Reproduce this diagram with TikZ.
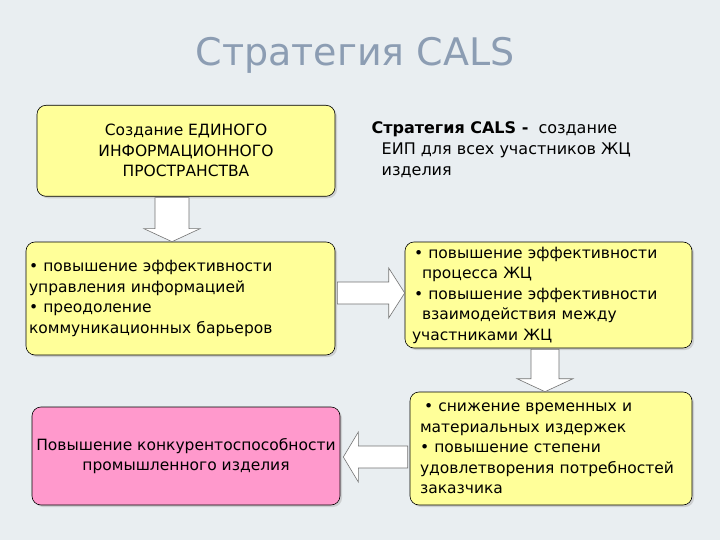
\documentclass[tikz,border=0pt]{standalone}
\usepackage{fontspec}
\setmainfont{DejaVu Sans}
\usetikzlibrary{calc,shadows}
\definecolor{bg}{HTML}{E9EEF1}
\definecolor{yel}{HTML}{FFFF99}
\definecolor{pnk}{HTML}{FF99CC}
\definecolor{ttl}{HTML}{8C9DB3}
\begin{document}
\begin{tikzpicture}[x=1pt,y=-1pt,
  box/.style={draw=black,line width=0.6pt,rounded corners=9pt,fill=yel,
    drop shadow={shadow xshift=2pt,shadow yshift=-2pt,fill=black!30},
    font=\fontsize{15.5}{20.5}\selectfont,inner sep=3pt},
  barrow/.style={draw=black!55,fill=white,line width=0.6pt}]
\fill[bg] (0,0) rectangle (720,540);
\node[font=\fontsize{38}{40}\selectfont,text=ttl] (title) at (355,55) {Стратегия CALS};
\node[box,minimum width=298pt,minimum height=91pt,anchor=north,inner sep=6pt,align=center] (a) at (186,105)
  {Создание ЕДИНОГО\\ИНФОРМАЦИОННОГО\\ПРОСТРАНСТВА};
\node[box,minimum width=309pt,minimum height=113pt,align=left,text width=303pt] (b) at (180.5,298.5)
  {• повышение эффективности\\управления информацией\\• преодоление\\коммуникационных барьеров};
\node[font=\fontsize{16}{21}\selectfont,anchor=north west,align=left] (c) at (368,118)
  {\textbf{Стратегия CALS -}\ \ создание\\\ \ ЕИП для всех участников ЖЦ\\\ \ изделия};
\node[box,minimum width=287pt,minimum height=106pt,align=left,text width=281pt] (d) at (548.5,295)
  {\hspace*{6pt}• повышение эффективности\\\hspace*{14pt}процесса ЖЦ\\\hspace*{6pt}• повышение эффективности\\\hspace*{14pt}взаимодействия между\\\hspace*{4pt}участниками ЖЦ};
\node[box,minimum width=282pt,minimum height=113pt,align=left,text width=262pt] (e) at (551,448.5)
  {\hspace*{4pt}• снижение временных и\\материальных издержек\\• повышение степени\\удовлетворения потребностей\\заказчика};
\node[box,fill=pnk,minimum width=308pt,minimum height=98pt,align=center] (f) at (186,456)
  {Повышение конкурентоспособности\\промышленного изделия};
% block arrows
\coordinate (a1) at (a.south -| 172,0);
\coordinate (b1) at (b.north -| 172,0);
\draw[barrow] ($(a1)+(-17,1)$) -- ($(a1)+(17,1)$) -- ($(b1)+(17,-13)$) -- ($(b1)+(28,-13)$)
  -- (b1) -- ($(b1)+(-28,-13)$) -- ($(b1)+(-17,-13)$) -- cycle;
\coordinate (b2) at (b.east |- 0,293);
\coordinate (d2) at (d.west |- 0,293);
\draw[barrow] ($(b2)+(2,-11)$) -- ($(d2)+(-16,-11)$) -- ($(d2)+(-16,-25)$) -- (d2)
  -- ($(d2)+(-16,25)$) -- ($(d2)+(-16,11)$) -- ($(b2)+(2,11)$) -- cycle;
\coordinate (d3) at (d.south -| 545,0);
\coordinate (e3) at (e.north -| 545,0);
\draw[barrow] ($(d3)+(-14,1)$) -- ($(d3)+(14,1)$) -- ($(e3)+(14,-13)$) -- ($(e3)+(28,-13)$)
  -- (e3) -- ($(e3)+(-28,-13)$) -- ($(e3)+(-14,-13)$) -- cycle;
\coordinate (e4) at (e.west |- 0,457);
\coordinate (f4) at (f.east |- 0,457);
\draw[barrow] ($(e4)+(-2,-11)$) -- ($(f4)+(18,-11)$) -- ($(f4)+(18,-25)$) -- ($(f4)+(3,0)$)
  -- ($(f4)+(18,25)$) -- ($(f4)+(18,11)$) -- ($(e4)+(-2,11)$) -- cycle;
\end{tikzpicture}
\end{document}
